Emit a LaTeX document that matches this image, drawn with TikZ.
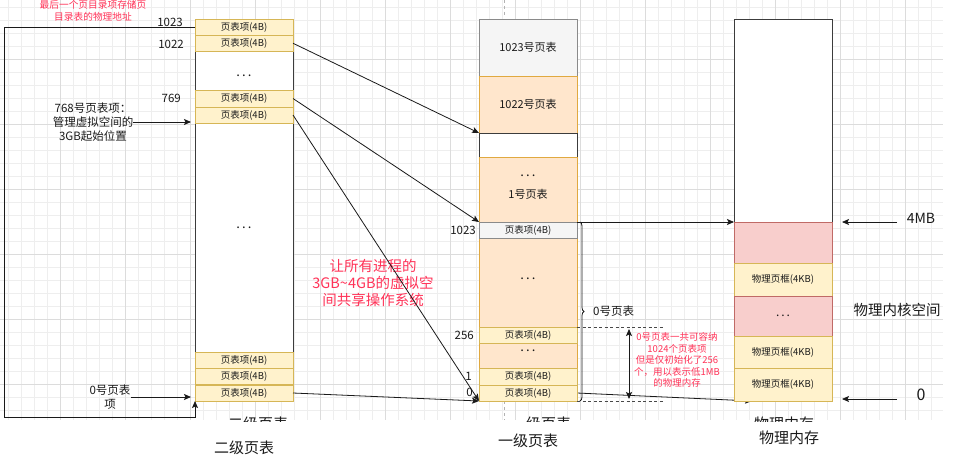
\documentclass[tikz,border=0pt]{standalone}
\usepackage{fontspec}
\setmainfont{Noto Sans CJK SC}
\usetikzlibrary{arrows.meta,decorations.pathreplacing}
\pgfdeclarelayer{gridlayer}
\pgfdeclarelayer{under}
\pgfsetlayers{gridlayer,under,main}

\definecolor{entfill}{HTML}{FFF2CC}
\definecolor{entline}{HTML}{D6B656}
\definecolor{orgfill}{HTML}{FFE6CC}
\definecolor{orgline}{HTML}{E0A940}
\definecolor{gryfill}{HTML}{F5F5F5}
\definecolor{gryline}{HTML}{8A8A8A}
\definecolor{pnkfill}{HTML}{F8CECC}
\definecolor{pnkline}{HTML}{C06A66}
\definecolor{note}{HTML}{FF3358}
\definecolor{ink}{HTML}{1A1A1A}
\definecolor{gminor}{HTML}{EEEEEE}
\definecolor{gmajor}{HTML}{DCDCDC}

\newcommand\fsz[2]{\fontsize{#1}{#2}\selectfont}

\tikzset{
  cell/.style={draw, minimum width=98pt, inner sep=0pt, outer sep=0pt, line width=0.8pt, text=ink},
  entry/.style={cell, draw=entline, fill=entfill, font=\fsz{9.5}{11}},
  orgblock/.style={cell, draw=orgline, fill=orgfill, font=\fsz{11}{16}, align=center},
  gryblock/.style={cell, draw=gryline, fill=gryfill, font=\fsz{11}{13}},
  pnkblock/.style={cell, draw=pnkline, fill=pnkfill, font=\fsz{12}{14}},
  frame/.style={cell, draw=ink!85, fill=white},
  dotsl/.style={font=\fsz{13}{14}, text=ink, inner sep=0pt},
  numlbl/.style={font=\fsz{11.5}{13}, text=ink, inner sep=0pt, anchor=east},
  lbl/.style={font=\fsz{11.5}{14}, text=ink, inner sep=0pt, align=center},
  notetext/.style={text=note, inner sep=0pt, align=center},
  title/.style={font=\fsz{15}{17}, text=ink, inner sep=0pt},
  arr/.style={draw=ink, line width=0.8pt, -{Stealth[length=7pt,width=6pt,inset=1.5pt]}},
  dblarr/.style={draw=ink, line width=0.8pt, {Stealth[length=7pt,width=6pt,inset=1.5pt]}-{Stealth[length=7pt,width=6pt,inset=1.5pt]}},
  dashline/.style={draw=ink!80, line width=0.7pt, dash pattern=on 3pt off 2.5pt},
  faintdash/.style={draw=black!30, line width=0.6pt, dash pattern=on 3pt off 3pt},
  bracel/.style={draw=ink, line width=0.8pt, decorate, decoration={brace, amplitude=4pt}},
}

\begin{document}
\begin{tikzpicture}[x=1pt,y=-1pt]
\useasboundingbox (0,0) rectangle (965,460);

% canvas grid
\begin{pgfonlayer}{gridlayer}
  \fill[white] (0,0) rectangle (965,460);
  \foreach \gx in {8,21,...,943} \draw[gminor, line width=0.5pt] (\gx,0) -- (\gx,420);
  \foreach \gy in {7,20,...,420} \draw[gminor, line width=0.5pt] (0,\gy) -- (943,\gy);
  \foreach \gx in {60,125,...,905} \draw[gmajor, line width=0.6pt] (\gx,0) -- (\gx,420);
  \foreach \gy in {59,124,...,384} \draw[gmajor, line width=0.6pt] (0,\gy) -- (943,\gy);
  % titles partly hidden under the lower margin
  \begin{scope}
    \clip (0,0) rectangle (965,421);
    \node[title] (h2) at (258,424) {二级页表};
    \node[title] (h1) at (541,424) {一级页表};
    \node[title] (hm) at (784,424) {物理内存};
  \end{scope}
  \draw[faintdash] (504,0) -- (504,15);
  \draw[faintdash] (504,401) -- (504,420);
\end{pgfonlayer}

% ---------- page directory (二级页表) ----------
\node[frame, minimum height=382pt] (pd) at (244,210) {};
\node[entry, minimum height=16pt] (e1023) at (244,27) {页表项(4B)};
\node[entry, minimum height=16.5pt] (e1022) at (244,43.25) {页表项(4B)};
\node[dotsl] (pdd1) at (244,76) {.\,.\,.};
\node[entry, minimum height=17pt] (e769) at (244,98.5) {页表项(4B)};
\node[entry, minimum height=16pt] (e768) at (244,115) {页表项(4B)};
\node[dotsl] (pdd2) at (244,228) {.\,.\,.};
\node[entry, minimum height=16pt] (e2) at (244,360) {页表项(4B)};
\node[entry, minimum height=16.5pt] (e1) at (244,376.25) {页表项(4B)};
\node[entry, minimum height=16pt] (e0) at (244,393) {页表项(4B)};

\node[numlbl] (n1023) at (183,22) {1023};
\node[numlbl] (n1022) at (184,44) {1022};
\node[numlbl] (n769) at (181,98) {769};

\node[notetext, font=\fsz{9.7}{12}] (ntop) at (93,11) {最后一个页目录项存储页\\目录表的物理地址};
\node[lbl] (l768) at (93,122) {768号页表项：\\管理虚拟空间的\\3GB起始位置};
\node[lbl] (l0) at (110,397) {0号页表\\项};

% ---------- page tables (一级页表) ----------
\node[gryblock, minimum height=57pt] (pt1023) at (528,47.5) {1023号页表};
\node[orgblock, minimum height=57pt] (pt1022) at (528,104.5) {1022号页表};
\node[frame, minimum height=24pt] (gap) at (528,145) {};
\node[orgblock, minimum height=65pt] (pt1) at (528,189.5) {};
\node[dotsl] (pt1d) at (528,176) {.\,.\,.};
\node[lbl, font=\fsz{11}{13}] (pt1t) at (528,194) {1号页表};
\node[orgblock, minimum height=130pt] (pt0) at (528,303) {};
\node[gryblock, minimum height=16pt, font=\fsz{9.5}{11}] (pte1023) at (528,230) {页表项(4B)};
\node[dotsl] (pt0d1) at (528,279) {.\,.\,.};
\node[entry, minimum height=16pt] (pte256) at (528,335) {页表项(4B)};
\node[dotsl] (pt0d2) at (528,351) {.\,.\,.};
\node[entry, minimum height=17pt] (pte1) at (528,376.5) {页表项(4B)};
\node[entry, minimum height=16pt] (pte0) at (528,393) {页表项(4B)};

\node[numlbl] (m1023) at (476,230) {1023};
\node[numlbl] (m256) at (474,335) {256};
\node[numlbl] (m1) at (472,376) {1};
\node[numlbl] (m0) at (473,392) {0};

% brace over page table 0
\draw[bracel] ([xshift=3pt]pt1.south east) -- ([xshift=3pt]pte0.south east);
\node[lbl, anchor=west] (l0pt) at (593,311) {0号页表};

\coordinate (dend) at (663,327);
\draw[dashline] (pte256.north east) -- (dend);
\draw[dashline] (pte0.south east) -- (dend |- pte0.south east);
\coordinate (va) at (629,329);
\coordinate (vb) at (629,399);
\draw[dblarr] (va) -- (vb);
\node[notetext, font=\fsz{9.5}{11.5}] (nlow) at (677,360) {0号页表一共可容纳\\1024个页表项\\但是仅初始化了256\\个，用以表示低1MB\\的物理内存};

\node[notetext, font=\fsz{14.5}{17}] (nmid) at (373,283) {让所有进程的\\3GB\textasciitilde4GB的虚拟空\\间共享操作系统};

% ---------- physical memory (物理内存) ----------
\coordinate (hid) at (752,401);
\begin{pgfonlayer}{under}
  \draw[arr] (pte0.east) -- (hid);
\end{pgfonlayer}
\node[frame, minimum height=203pt] (mem) at (783,120.5) {};
\node[pnkblock, minimum height=41pt] (k1) at (783,242.5) {};
\node[entry, minimum height=33pt] (f1) at (783,279.5) {物理页框(4KB)};
\node[pnkblock, minimum height=40pt] (k2) at (783,316) {.\,.\,.};
\node[entry, minimum height=32pt] (f2) at (783,352) {物理页框(4KB)};
\node[entry, minimum height=33pt] (f3) at (783,384.5) {物理页框(4KB)};

\node[lbl, font=\fsz{14}{16}] (l4mb) at (921,218) {4MB};
\node[lbl, font=\fsz{16}{18}] (lz) at (921,395) {0};
\node[lbl, font=\fsz{14.5}{17}] (lks) at (897,310) {物理内核空间};
\coordinate (t4) at (897,222);
\coordinate (tz) at (897,399);
\coordinate (tzend) at (842,399);
\draw[arr] (t4) -- ([xshift=10pt]mem.south east);
\draw[arr] (tz) -- (tzend);

% ---------- connectors ----------
\coordinate (loopc) at (4,417);
\draw[arr] (e1023.west) -| (loopc) -| (e0.south west);
\draw[arr, shorten >=4pt] (l768.east) -- (l768.east -| e768.west);
\draw[arr, shorten >=4pt] (l0.east) -- (l0.east -| e0.west);
\draw[arr] (e1022.east) -- (gap.north west);
\draw[arr] (e769.east) -- (pt1.south west);
\draw[arr] (e768.east) -- (pte0.south west);
\draw[arr] (e0.east) -- (pte0.south west);
\draw[arr] (pt1.south east) -- (mem.south west);

% ---------- titles ----------
\node[title] (t2) at (244,448) {二级页表};
\node[title] (t1) at (528,441) {一级页表};
\node[title] (tm) at (789,438) {物理内存};
\end{tikzpicture}
\end{document}
